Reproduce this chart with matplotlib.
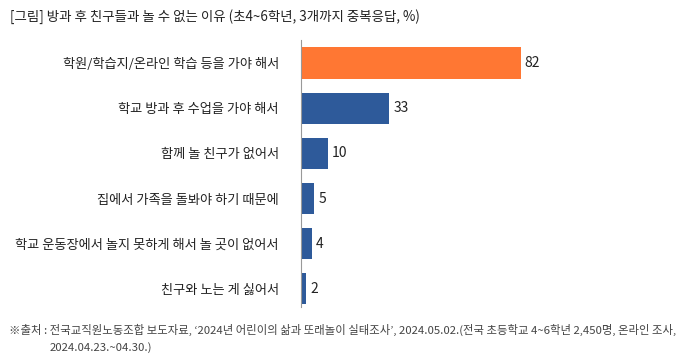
import matplotlib.pyplot as plt

plt.rcParams['font.family'] = ['Noto Sans CJK KR', 'DejaVu Sans']

reasons = [
    '학원/학습지/온라인 학습 등을 가야 해서',
    '학교 방과 후 수업을 가야 해서',
    '함께 놀 친구가 없어서',
    '집에서 가족을 돌봐야 하기 때문에',
    '학교 운동장에서 놀지 못하게 해서 놀 곳이 없어서',
    '친구와 노는 게 싫어서',
]
values = [82, 33, 10, 5, 4, 2]
colors = ['#FF7733', '#2E5A9A', '#2E5A9A', '#2E5A9A', '#2E5A9A', '#2E5A9A']

fig = plt.figure(figsize=(6.81, 3.64), dpi=100)
ax = fig.add_axes([0.442, 0.157, 0.5, 0.733])

y = range(len(values))
ax.barh(y, values, height=0.69, color=colors)
for i, v in enumerate(values):
    ax.text(v + 1.5, i, str(v), va='center', ha='left', fontsize=10, color='#222222')

ax.set_xlim(0, 127)
ax.set_ylim(5.4, -0.51)
ax.set_yticks(list(y))
ax.set_yticklabels(reasons, fontsize=9.5, color='#222222')
ax.tick_params(axis='y', length=0, pad=16)
ax.set_xticks([])
for s in ['top', 'right', 'bottom']:
    ax.spines[s].set_visible(False)
ax.spines['left'].set_color('#999999')
ax.spines['left'].set_linewidth(0.8)

fig.text(0.015, 0.955, '[그림] 방과 후 친구들과 놀 수 없는 이유 (초4~6학년, 3개까지 중복응답, %)',
         fontsize=9.7, color='#222222', va='center')
fig.text(0.013, 0.093, '※출처 : 전국교직원노동조합 보도자료, ‘2024년 어린이의 삶과 또래놀이 실태조사’, 2024.05.02.(전국 초등학교 4~6학년 2,450명, 온라인 조사,',
         fontsize=8.2, color='#444444', va='center')
fig.text(0.073, 0.046, '2024.04.23.~04.30.)', fontsize=8.2, color='#444444', va='center')

fig.savefig('out.png', dpi=100)
